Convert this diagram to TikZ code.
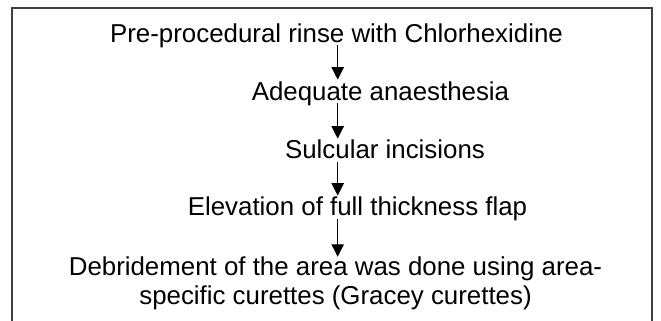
\documentclass[tikz,border=0pt]{standalone}
\usepackage{fontspec}
\setmainfont{Liberation Sans}
\usepackage{tikz}
\usetikzlibrary{arrows.meta,positioning,calc}
\usepackage{xcolor}
\definecolor{ink}{RGB}{0,0,0}
\definecolor{rim}{RGB}{64,64,64}
\tikzset{
  lbl/.style={text=ink,inner sep=0pt,font=\fontsize{12.93}{14.15}\selectfont},
  stage/.style={lbl,anchor=base,text height=10pt,text depth=1.5pt},
  ar/.style={draw=ink,line width=0.55pt,-{Triangle[length=6.2pt,width=6.2pt]}},
}

\begin{document}
\begin{tikzpicture}[x=0.5pt,y=-0.5pt]
  \useasboundingbox (0,0) rectangle (661,321);
  \draw[rim,line width=0.65pt] (12,321) -- (12,8) -- (652,8) -- (652,321);
  \coordinate (ax) at (337.7,0);
  \node[stage] (s1) at (336.5,42) {Pre-procedural rinse with Chlorhexidine};
  \node[stage] (s2) at (380.5,100) {Adequate anaesthesia};
  \node[stage] (s3) at (385,159) {Sulcular incisions};
  \node[stage] (s4) at (357.5,216) {Elevation of full thickness flap};
  \node[lbl,align=center,anchor=north] (s5) at (335.5,256.7)
    {Debridement of the area was done using area-\\specific curettes (Gracey curettes)};
  \foreach \i in {1,2,3,4} {
    \pgfmathtruncatemacro\j{\i+1}
    \draw[ar] (s\i.south -| ax) -- (s\j.north -| ax);
  }
\end{tikzpicture}
\end{document}
